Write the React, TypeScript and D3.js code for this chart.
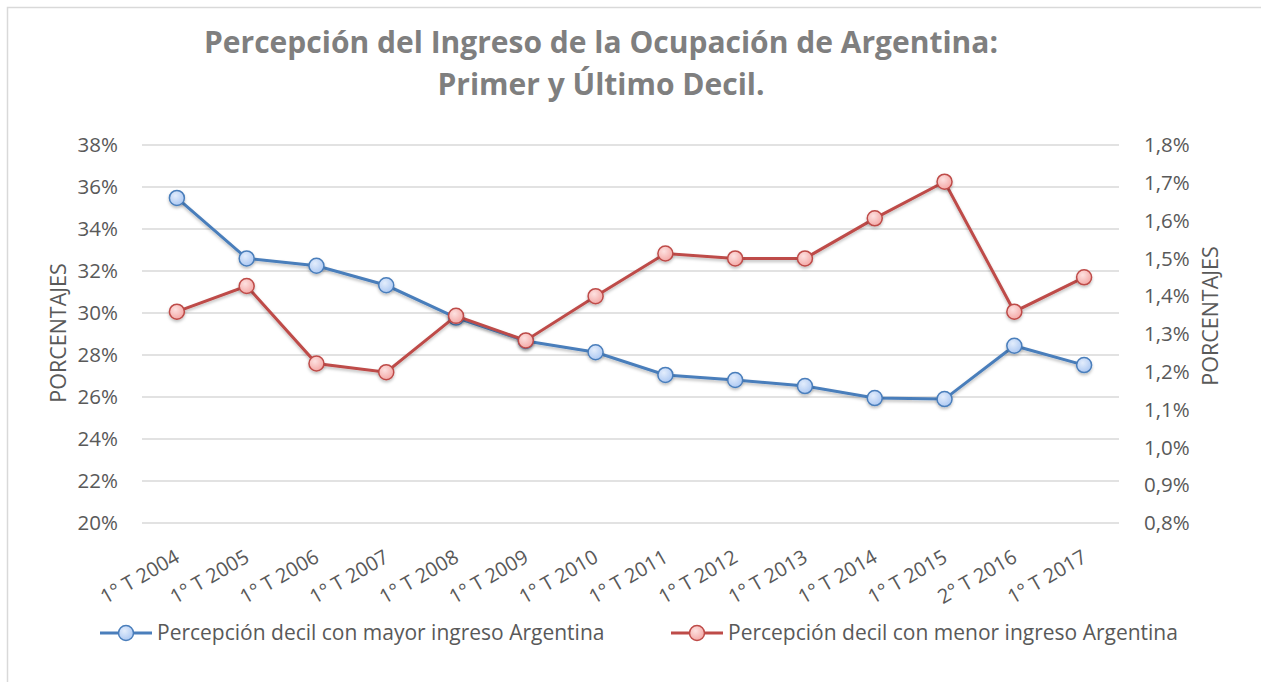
import React from "react";
import * as d3 from "d3";

const categories = ["1° T 2004","1° T 2005","1° T 2006","1° T 2007","1° T 2008","1° T 2009","1° T 2010","1° T 2011","1° T 2012","1° T 2013","1° T 2014","1° T 2015","2° T 2016","1° T 2017"];
const mayorIngreso = [35.48, 32.6, 32.25, 31.32, 29.78, 28.67, 28.13, 27.05, 26.81, 26.52, 25.95, 25.9, 28.44, 27.52];
const menorIngreso = [1.359, 1.427, 1.222, 1.199, 1.348, 1.283, 1.40, 1.513, 1.50, 1.50, 1.606, 1.703, 1.359, 1.45];
const leftTicks = [20, 22, 24, 26, 28, 30, 32, 34, 36, 38];
const rightTicks = [0.8, 0.9, 1.0, 1.1, 1.2, 1.3, 1.4, 1.5, 1.6, 1.7, 1.8];
const titleLines = ["Percepción del Ingreso de la Ocupación de Argentina:", "Primer y Último Decil."];
const seriesNames = ["Percepción decil con mayor ingreso Argentina", "Percepción decil con menor ingreso Argentina"];

const W = 1261, H = 682;
const plot = { left: 142, right: 1119, top: 145, bottom: 523 };
const FONT = "'Open Sans', sans-serif";
const TEXT = "#595959";
const BLUE = "#4a7ebb";
const RED = "#be4b48";

export default function App() {
  const x = d3.scaleBand<string>().domain(categories).range([plot.left, plot.right]);
  const cx = (c: string) => (x(c) as number) + x.bandwidth() / 2;
  const yL = d3.scaleLinear().domain([20, 38]).range([plot.bottom, plot.top]);
  const yR = d3.scaleLinear().domain([0.8, 1.8]).range([plot.bottom, plot.top]);
  const lineL = d3.line<number>().x((_, i) => cx(categories[i])).y((d) => yL(d));
  const lineR = d3.line<number>().x((_, i) => cx(categories[i])).y((d) => yR(d));
  const fmtR = (v: number) => v.toFixed(1).replace(".", ",") + "%";

  return (
    <svg width={W} height={H} style={{ position: "absolute", left: 0, top: 0, background: "#fff" }} fontFamily={FONT}>
      <defs>
        <radialGradient id="gBlue" cx="40%" cy="35%" r="70%">
          <stop offset="0%" stopColor="#e3edfc" />
          <stop offset="100%" stopColor="#a9c6f2" />
        </radialGradient>
        <radialGradient id="gRed" cx="40%" cy="35%" r="70%">
          <stop offset="0%" stopColor="#fde1e0" />
          <stop offset="100%" stopColor="#f3a5a3" />
        </radialGradient>
        <filter id="shadow" x="-20%" y="-20%" width="140%" height="160%">
          <feDropShadow dx="0" dy="2" stdDeviation="1.5" floodColor="#000" floodOpacity="0.25" />
        </filter>
      </defs>
      <rect x={7.5} y={7.5} width={1260} height={700} fill="#fff" stroke="#d9d9d9" strokeWidth={1.5} />

      {titleLines.map((t, i) => (
        <text key={i} x={601} y={53 + i * 42} textAnchor="middle" fontSize={30} fontWeight="bold" fill="#7f7f7f">{t}</text>
      ))}

      {leftTicks.map((t) => (
        <g key={t}>
          <line x1={plot.left} x2={plot.right} y1={yL(t)} y2={yL(t)} stroke="#d9d9d9" strokeWidth={1.5} />
          <text x={118} y={yL(t)} dy="0.35em" textAnchor="end" fontSize={20.5} fill={TEXT}>{t}%</text>
        </g>
      ))}
      {rightTicks.map((t) => (
        <text key={t} x={1144} y={yR(t)} dy="0.35em" textAnchor="start" fontSize={20.5} fill={TEXT}>{fmtR(t)}</text>
      ))}

      <text transform={`translate(66,333) rotate(-90)`} textAnchor="middle" fontSize={21.5} fill={TEXT}>PORCENTAJES</text>
      <text transform={`translate(1218,316) rotate(-90)`} textAnchor="middle" fontSize={21.5} fill={TEXT}>PORCENTAJES</text>

      {categories.map((c) => (
        <text key={c} transform={`translate(${cx(c) + 4},${561}) rotate(-30)`} textAnchor="end" fontSize={20} fill={TEXT}>{c}</text>
      ))}

      <path d={lineL(mayorIngreso) as string} fill="none" stroke={BLUE} strokeWidth={3} filter="url(#shadow)" />
      {mayorIngreso.map((v, i) => (
        <circle key={i} cx={cx(categories[i])} cy={yL(v)} r={7.5} fill="url(#gBlue)" stroke={BLUE} strokeWidth={1.5} filter="url(#shadow)" />
      ))}
      <path d={lineR(menorIngreso) as string} fill="none" stroke={RED} strokeWidth={3} filter="url(#shadow)" />
      {menorIngreso.map((v, i) => (
        <circle key={i} cx={cx(categories[i])} cy={yR(v)} r={7.5} fill="url(#gRed)" stroke={RED} strokeWidth={1.5} filter="url(#shadow)" />
      ))}

      {[{ x0: 100, c: BLUE, g: "url(#gBlue)", n: seriesNames[0] }, { x0: 671, c: RED, g: "url(#gRed)", n: seriesNames[1] }].map((l, i) => (
        <g key={i}>
          <line x1={l.x0} x2={l.x0 + 52} y1={633} y2={633} stroke={l.c} strokeWidth={3} />
          <circle cx={l.x0 + 26} cy={633} r={7.5} fill={l.g} stroke={l.c} strokeWidth={1.5} />
          <text x={l.x0 + 57} y={633} dy="0.35em" fontSize={21} fill={TEXT}>{l.n}</text>
        </g>
      ))}
    </svg>
  );
}
